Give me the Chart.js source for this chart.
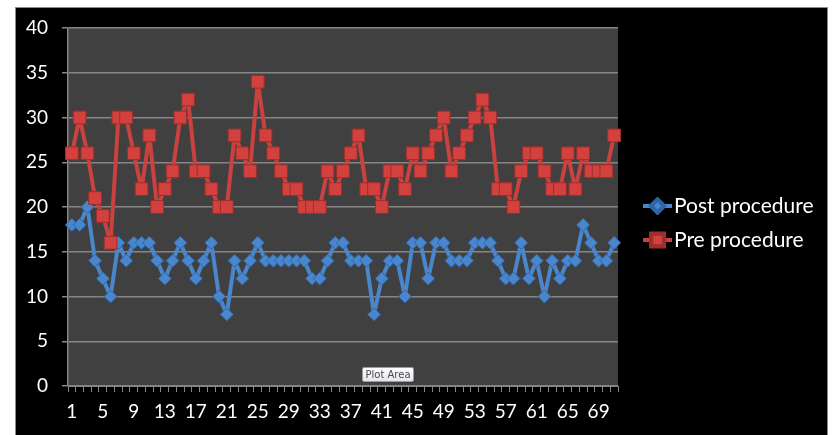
<!DOCTYPE html>
<html>
<head>
<meta charset="utf-8">
<title>Pre / Post procedure</title>
<script src="https://cdn.jsdelivr.net/npm/chart.js@4.4.1/dist/chart.umd.min.js"></script>
<style>
  html, body { margin: 0; padding: 0; background: #ffffff; }
  #wrap { position: relative; width: 835px; height: 435px; }
  #tip {
    position: absolute; left: 362px; top: 367px; width: 50px; height: 13px;
    border: 1px solid #9a9aa0; border-radius: 2px;
    background: linear-gradient(#ffffff, #e4e6ee);
    font: 10px "DejaVu Sans", sans-serif; color: #4a4a4a;
    line-height: 13px; text-align: center;
  }
</style>
</head>
<body>
<div id="wrap">
  <canvas id="chart" width="835" height="435"></canvas>
  <div id="tip">Plot Area</div>
</div>
<script>
// ─── Data ────────────────────────────────────────────────────────────────────
const categories = [
  '1','2','3','4','5','6','7','8','9','10','11','12','13','14','15','16','17','18',
  '19','20','21','22','23','24','25','26','27','28','29','30','31','32','33','34','35','36',
  '37','38','39','40','41','42','43','44','45','46','47','48','49','50','51','52','53','54',
  '55','56','57','58','59','60','61','62','63','64','65','66','67','68','69','70','71'
];

const postProcedure = [
  18,18,20,14,12,10,16,14,16,16,16,14,12,14,16,14,12,14,16,10,8,14,12,14,16,
  14,14,14,14,14,14,12,12,14,16,16,14,14,14,8,12,14,14,10,16,16,12,16,
  16,14,14,14,16,16,16,14,12,12,16,12,14,10,14,12,14,14,18,16,14,14,16
];

const preProcedure = [
  26,30,26,21,19,16,30,30,26,22,28,20,22,24,30,32,24,24,22,20,20,28,26,24,34,
  28,26,24,22,22,20,20,20,24,22,24,26,28,22,22,20,24,24,22,26,24,26,28,
  30,24,26,28,30,32,30,22,22,20,24,26,26,24,22,22,26,22,26,24,24,24,28
];

const yTicks = [0, 5, 10, 15, 20, 25, 30, 35, 40];

// ─── Styles ──────────────────────────────────────────────────────────────────
const BLUE      = '#4a86cc';
const BLUE_DARK = '#2f65a8';
const RED       = '#c9423f';
const RED_DARK  = '#9c2f2c';
const GRID      = '#858585';

Chart.defaults.font.family = 'Lato, "Open Sans", sans-serif';
Chart.defaults.color = '#ffffff';

// background: white page, black chart box, dark plot area
const backdrop = {
  id: 'backdrop',
  beforeDraw(chart) {
    const { ctx, chartArea: a } = chart;
    ctx.save();
    ctx.fillStyle = '#ffffff';
    ctx.fillRect(0, 0, chart.width, chart.height);
    ctx.fillStyle = '#000000';
    ctx.fillRect(15, 7, 813, 428);
    ctx.strokeStyle = '#8c8c8c';
    ctx.lineWidth = 1;
    ctx.strokeRect(15.5, 7.5, 812, 430);
    ctx.fillStyle = '#404040';
    ctx.fillRect(a.left, a.top, a.right - a.left, a.bottom - a.top);
    ctx.restore();
  }
};

// Excel style legend: short line with marker in the middle
const sideLegend = {
  id: 'sideLegend',
  afterDraw(chart) {
    const { ctx } = chart;
    const rows = [
      { ds: chart.data.datasets[0], y: 206 },
      { ds: chart.data.datasets[1], y: 240 }
    ];
    ctx.save();
    rows.forEach(({ ds, y }) => {
      ctx.strokeStyle = ds.borderColor;
      ctx.lineWidth = 4;
      ctx.beginPath();
      ctx.moveTo(643, y);
      ctx.lineTo(672, y);
      ctx.stroke();
      Chart.helpers.drawPoint(ctx, {
        pointStyle: ds.pointStyle,
        radius: ds.pointRadius,
        borderWidth: 1,
        rotation: 0
      }, 657.5, y);
      ctx.fillStyle = ds.pointBackgroundColor;
      ctx.strokeStyle = ds.pointBorderColor;
      ctx.fill();
      ctx.stroke();
      ctx.fillStyle = '#ffffff';
      ctx.font = '21px Lato, "Open Sans", sans-serif';
      ctx.textBaseline = 'middle';
      ctx.fillText(ds.label, 674, y);
    });
    ctx.restore();
  }
};

new Chart(document.getElementById('chart'), {
  type: 'line',
  data: {
    labels: categories,
    datasets: [
      {
        label: 'Post procedure',
        data: postProcedure,
        borderColor: BLUE,
        borderWidth: 4,
        borderJoinStyle: 'round',
        pointStyle: 'rectRot',
        pointRadius: 6.5,
        pointBackgroundColor: BLUE,
        pointBorderColor: BLUE_DARK,
        pointBorderWidth: 1,
        order: 1
      },
      {
        label: 'Pre procedure',
        data: preProcedure,
        borderColor: RED,
        borderWidth: 4,
        borderJoinStyle: 'round',
        pointStyle: 'rect',
        pointRadius: 9,
        pointBackgroundColor: '#d2413e',
        pointBorderColor: RED_DARK,
        pointBorderWidth: 1,
        order: 0
      }
    ]
  },
  options: {
    responsive: false,
    devicePixelRatio: 1,
    animation: false,
    clip: false,
    tension: 0,
    layout: { padding: { left: 0, top: 28, right: 217, bottom: 0 } },
    plugins: {
      legend: { display: false },
      tooltip: { enabled: false }
    },
    scales: {
      x: {
        offset: true,
        grid: {
          offset: true,
          drawOnChartArea: false,
          drawTicks: true,
          tickLength: 6,
          color: GRID
        },
        border: { display: true, color: GRID, width: 1 },
        ticks: {
          autoSkip: false,
          maxRotation: 0,
          padding: 8,
          font: { size: 19 },
          color: '#ffffff',
          callback: (v, i) => (i % 4 === 0 ? categories[i] : '')
        },
        afterFit: (s) => { s.height = 49; }
      },
      y: {
        min: yTicks[0],
        max: yTicks[yTicks.length - 1],
        afterBuildTicks: (s) => { s.ticks = yTicks.map(v => ({ value: v })); },
        grid: {
          color: GRID,
          lineWidth: 1.5,
          tickLength: 6
        },
        border: { display: true, color: GRID, width: 1.5 },
        ticks: {
          padding: 14,
          font: { size: 19 },
          color: '#ffffff'
        },
        afterFit: (s) => { s.width = 68; }
      }
    }
  },
  plugins: [backdrop, sideLegend]
});
</script>
</body>
</html>
